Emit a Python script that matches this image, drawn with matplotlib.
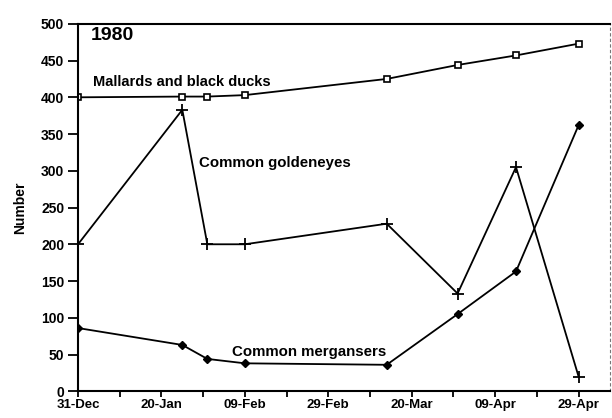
import matplotlib.pyplot as plt

# Survey dates as days after 31 Dec 1979
days = [0, 25, 31, 40, 74, 91, 105, 120]

mallards = [400, 401, 401, 403, 425, 444, 457, 473]
goldeneyes = [200, 383, 200, 200, 228, 133, 305, 20]
mergansers = [86, 63, 44, 38, 36, 105, 163, 362]

tick_days = [0, 20, 40, 60, 80, 100, 120]
tick_labels = ['31-Dec', '20-Jan', '09-Feb', '29-Feb', '20-Mar', '09-Apr', '29-Apr']

plt.rcParams['font.family'] = ['Liberation Sans', 'DejaVu Sans']
plt.rcParams['font.weight'] = 'bold'

fig = plt.figure(figsize=(6.12, 4.18), dpi=100)
ax = fig.add_axes([0.1275, 0.064, 0.869, 0.879])

ax.plot(days, mallards, color='black', lw=1.3, marker='s', ms=5,
        mfc='white', mec='black', mew=1.2)
ax.plot(days, goldeneyes, color='black', lw=1.3, marker='+', ms=8, mew=1.3)
ax.plot(days, mergansers, color='black', lw=1.3, marker='D', ms=4.5,
        mfc='black', mec='black')

ax.set_xlim(0, 127.5)
ax.set_ylim(0, 500)
ax.set_yticks(range(0, 501, 50))
ax.set_xticks(tick_days)
ax.set_xticklabels(tick_labels)
ax.set_xticks(range(0, 121, 10), minor=True)

ax.tick_params(axis='y', direction='out', length=7, width=1.3, labelsize=10, pad=3)
ax.tick_params(axis='x', which='both', direction='out', length=4, width=1.3,
               labelsize=9.5, pad=1.5)

for side in ['left', 'bottom', 'top']:
    ax.spines[side].set_linewidth(1.5)
ax.spines['right'].set_linestyle((0, (2, 3)))
ax.spines['right'].set_linewidth(0.8)
ax.spines['right'].set_color('#777777')

ax.set_ylabel('Number', fontsize=10, fontweight='bold', labelpad=10)

ax.text(3, 484, '1980', fontsize=14, fontweight='bold', va='center')
ax.text(3.5, 421, 'Mallards and black ducks', fontsize=10.5, fontweight='bold', va='center')
ax.text(29, 310, 'Common goldeneyes', fontsize=10.8, fontweight='bold', va='center')
ax.text(37, 54, 'Common mergansers', fontsize=10.8, fontweight='bold', va='center')

fig.savefig('out.png', dpi=100)
